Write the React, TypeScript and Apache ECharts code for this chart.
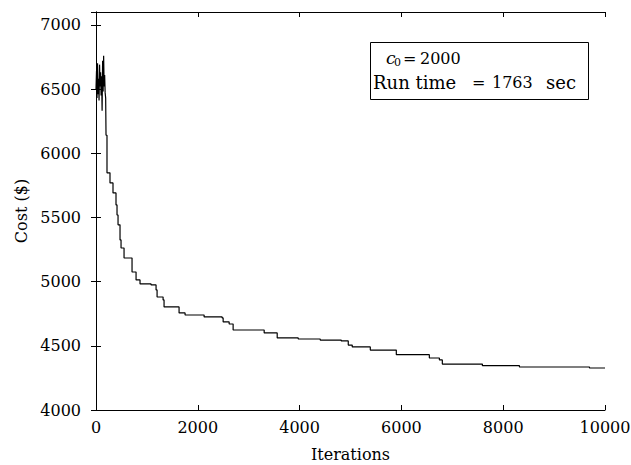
import React, { useEffect, useRef } from "react";
import * as echarts from "echarts";

const iterations = [
  0, 10, 20, 30, 40, 50, 60, 70, 80, 90, 100, 110, 120, 130, 140, 150, 160, 170, 180, 190,
  197, 216, 275, 334, 393, 413, 433, 472, 492, 551, 708, 787, 865, 1082, 1180, 1200, 1318,
  1337, 1632, 1750, 2124, 2478, 2498, 2616, 2694, 3304, 3560, 3973, 4405, 4818, 4956, 5034,
  5389, 5900, 6549, 6746, 6804, 7591, 8319, 9695, 10000,
];
const cost = [
  6500, 6640, 6430, 6700, 6460, 6580, 6410, 6690, 6520, 6630, 6450, 6600, 6330, 6720, 6480,
  6760, 6520, 6610, 6470, 6430,
  6140, 5847, 5769, 5691, 5597, 5519, 5442, 5325, 5262, 5184, 5075, 5013, 4982, 4974, 4935,
  4880, 4857, 4803, 4756, 4740, 4725, 4717, 4686, 4670, 4623, 4600, 4561, 4553, 4545, 4538,
  4506, 4491, 4467, 4431, 4405, 4390, 4358, 4345, 4335, 4327, 4327,
];
const xTicks = [0, 2000, 4000, 6000, 8000, 10000];
const yTicks = [4000, 4500, 5000, 5500, 6000, 6500, 7000];
const xLabel = "Iterations";
const yLabel = "Cost ($)";
const noteC0 = "2000";
const noteRun = "1763";

const FONT = "DejaVu Serif";

export default function App() {
  const ref = useRef<HTMLDivElement>(null);
  useEffect(() => {
    if (!ref.current) return;
    const chart = echarts.init(ref.current, undefined, { renderer: "svg" });
    const data = iterations.map((x, i) => [x, cost[i]]);
    const axisCommon = {
      axisLine: { show: true, lineStyle: { color: "#000", width: 1 } },
      axisTick: { show: true, inside: true, length: 5, lineStyle: { color: "#000" } },
      splitLine: { show: false },
    };
    chart.setOption({
      animation: false,
      backgroundColor: "#fff",
      grid: {
        left: 96,
        right: 26,
        top: 12,
        bottom: 55,
        containLabel: false,
        outerBoundsMode: "none",
      },
      xAxis: [
        {
          type: "value",
          min: xTicks[0],
          max: xTicks[xTicks.length - 1],
          interval: 2000,
          position: "bottom",
          ...axisCommon,
          axisLabel: {
            color: "#000",
            fontFamily: FONT,
            fontSize: 16,
            margin: 9,
            formatter: (v: number) => String(v),
          },
          name: xLabel,
          nameLocation: "middle",
          nameGap: 36,
          nameTextStyle: { color: "#000", fontFamily: FONT, fontSize: 16 },
        },
        {
          type: "value",
          min: xTicks[0],
          max: xTicks[xTicks.length - 1],
          interval: 2000,
          position: "top",
          ...axisCommon,
          axisLabel: { show: false },
        },
      ],
      yAxis: [
        {
          type: "value",
          min: yTicks[0],
          max: 7100,
          interval: 500,
          position: "left",
          ...axisCommon,
          axisLabel: {
            color: "#000",
            fontFamily: FONT,
            fontSize: 16,
            margin: 15,
            formatter: (v: number) => (yTicks.includes(v) ? String(v) : ""),
          },
          name: yLabel,
          nameLocation: "middle",
          nameGap: 66,
          nameRotate: 90,
          nameTextStyle: { color: "#000", fontFamily: FONT, fontSize: 16 },
        },
        {
          type: "value",
          min: yTicks[0],
          max: 7100,
          interval: 500,
          position: "right",
          ...axisCommon,
          axisLabel: { show: false },
        },
      ],
      series: [
        {
          type: "line",
          data,
          step: "end",
          showSymbol: false,
          symbol: "none",
          lineStyle: { color: "#000", width: 1.2 },
          xAxisIndex: 0,
          yAxisIndex: 0,
        },
      ],
      graphic: [
        {
          type: "rect",
          shape: { x: 370.5, y: 42.5, width: 218, height: 57 },
          style: { fill: "#fff", stroke: "#000", lineWidth: 1 },
          z: 10,
        },
        {
          type: "text",
          x: 386,
          y: 58,
          style: { text: "c", font: `italic 17px "${FONT}"`, fill: "#000", verticalAlign: "middle" },
          z: 11,
        },
        {
          type: "text",
          x: 394,
          y: 62,
          style: { text: "0", font: `11px "${FONT}"`, fill: "#000", verticalAlign: "middle" },
          z: 11,
        },
        {
          type: "text",
          x: 403,
          y: 58,
          style: { text: "=", font: `16px "${FONT}"`, fill: "#000", verticalAlign: "middle" },
          z: 11,
        },
        {
          type: "text",
          x: 420,
          y: 58,
          style: { text: noteC0, font: `16px "${FONT}"`, fill: "#000", verticalAlign: "middle" },
          z: 11,
        },
        {
          type: "text",
          x: 373,
          y: 82,
          style: { text: "Run time", font: `18px "${FONT}"`, fill: "#000", verticalAlign: "middle" },
          z: 11,
        },
        {
          type: "text",
          x: 472,
          y: 82,
          style: { text: "=", font: `16px "${FONT}"`, fill: "#000", verticalAlign: "middle" },
          z: 11,
        },
        {
          type: "text",
          x: 492,
          y: 82,
          style: { text: noteRun, font: `16px "${FONT}"`, fill: "#000", verticalAlign: "middle" },
          z: 11,
        },
        {
          type: "text",
          x: 546,
          y: 82,
          style: { text: "sec", font: `18px "${FONT}"`, fill: "#000", verticalAlign: "middle" },
          z: 11,
        },
      ],
    });
    return () => chart.dispose();
  }, []);
  return (
    <div
      ref={ref}
      style={{ position: "fixed", left: 0, top: 0, width: 631, height: 465, background: "#fff" }}
    />
  );
}
